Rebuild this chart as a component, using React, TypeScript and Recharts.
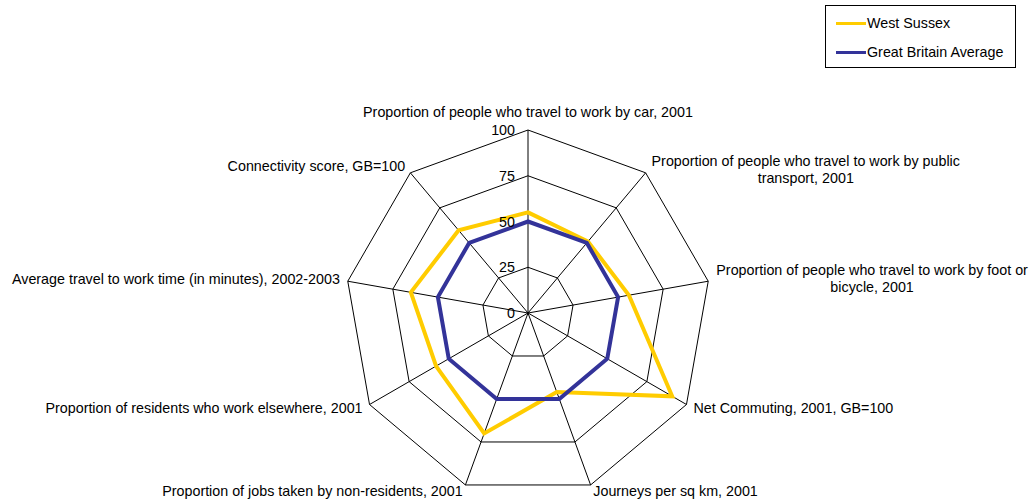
import React from "react";
import { Legend, PolarAngleAxis, PolarGrid, PolarRadiusAxis, Radar, RadarChart } from "recharts";

const categories = [
    "Proportion of people who travel to work by car, 2001",
    "Proportion of people who travel to work by public transport, 2001",
    "Proportion of people who travel to work by foot or bicycle, 2001",
    "Net Commuting, 2001, GB=100",
    "Journeys per sq km, 2001",
    "Proportion of jobs taken by non-residents, 2001",
    "Proportion of residents who work elsewhere, 2001",
    "Average travel to work time (in minutes), 2002-2003",
    "Connectivity score, GB=100",
];

// how each axis label is wrapped in the picture
const labelLines = [
    ["Proportion of people who travel to work by car, 2001"],
    ["Proportion of people who travel to work by public", "transport, 2001"],
    ["Proportion of people who travel to work by foot or", "bicycle, 2001"],
    ["Net Commuting, 2001, GB=100"],
    ["Journeys per sq km, 2001"],
    ["Proportion of jobs taken by non-residents, 2001"],
    ["Proportion of residents who work elsewhere, 2001"],
    ["Average travel to work time (in minutes), 2002-2003"],
    ["Connectivity score, GB=100"],
];

const westSussex = [55, 51, 56, 91, 46, 70, 58, 65, 59];
const gbAverage = [50, 50, 50, 50, 50, 50, 50, 50, 50];
const radiusTicks = [0, 25, 50, 75, 100];

const data = categories.map((name, i) => ({
    name,
    ws: westSussex[i],
    gb: gbAverage[i],
}));

const FONT = "Arial, 'Liberation Sans', sans-serif";
const FS = 14.3;

// offsets for the wrapped label blocks: [dx to block centre, dy of first baseline]
const labelLayout: Record<number, { dx: number; dy: number }> = {
    1: { dx: 155, dy: -1 },
    2: { dx: 156, dy: -5 },
};

const AngleTick = (props: any) => {
    const { x, y, textAnchor, payload } = props;
    const idx = payload.index;
    const lines = labelLines[idx] || [payload.value];
    if (lines.length > 1) {
        const lay = labelLayout[idx];
        return (
            <text fontFamily={FONT} fontSize={FS} fill="#000" textAnchor="middle">
                {lines.map((l: string, i: number) => (
                    <tspan key={i} x={x + lay.dx} y={y + lay.dy + i * 17.5}>
                        {l}
                    </tspan>
                ))}
            </text>
        );
    }
    let dy = 4;
    if (textAnchor === "middle") dy = -5;
    return (
        <text x={x} y={y + dy} fontFamily={FONT} fontSize={FS} fill="#000" textAnchor={textAnchor}>
            {lines[0]}
        </text>
    );
};

const RadiusTick = (props: any) => {
    const { x, y, payload } = props;
    return (
        <text x={x - 13} y={y + 5} fontFamily={FONT} fontSize={FS} fill="#000" textAnchor="end">
            {payload.value}
        </text>
    );
};

const LegendBox = () => (
    <div
        style={{
            width: 191,
            height: 63,
            border: "1px solid #000",
            boxSizing: "border-box",
            fontFamily: FONT,
            fontSize: FS,
            background: "#fff",
            position: "relative",
        }}
    >
        {[
            { label: "West Sussex", color: "#FFCC00", top: 9 },
            { label: "Great Britain Average", color: "#333399", top: 38 },
        ].map((it) => (
            <div key={it.label} style={{ position: "absolute", left: 10, top: it.top, display: "flex", alignItems: "center" }}>
                <div style={{ width: 30, height: 3, background: it.color }} />
                <span style={{ marginLeft: 1, lineHeight: "16px" }}>{it.label}</span>
            </div>
        ))}
    </div>
);

export default function App() {
    return (
        <div style={{ position: "absolute", left: 0, top: 0, background: "#fff" }}>
            <RadarChart
                width={1030}
                height={499}
                data={data}
                cx={528}
                cy={313}
                outerRadius={183}
                startAngle={90}
                endAngle={-270}
                margin={{ top: 0, right: 0, bottom: 0, left: 0 }}
            >
                <PolarGrid gridType="polygon" stroke="#000" strokeWidth={1} strokeOpacity={1} />
                <PolarAngleAxis dataKey="name" tick={<AngleTick />} tickLine={false} axisLine={false} />
                <PolarRadiusAxis
                    angle={90}
                    domain={[0, 100]}
                    ticks={radiusTicks}
                    tickCount={5}
                    axisLine={false}
                    tick={<RadiusTick />}
                />
                <Radar
                    name="West Sussex"
                    dataKey="ws"
                    stroke="#FFCC00"
                    strokeWidth={4}
                    fill="none"
                    fillOpacity={0}
                    dot={false}
                    isAnimationActive={false}
                />
                <Radar
                    name="Great Britain Average"
                    dataKey="gb"
                    stroke="#333399"
                    strokeWidth={4}
                    fill="none"
                    fillOpacity={0}
                    dot={false}
                    isAnimationActive={false}
                />
                <Legend
                    content={<LegendBox />}
                    layout="vertical"
                    verticalAlign="top"
                    align="right"
                    wrapperStyle={{ position: "absolute", left: 825, top: 5, width: 191 }}
                />
            </RadarChart>
        </div>
    );
}
